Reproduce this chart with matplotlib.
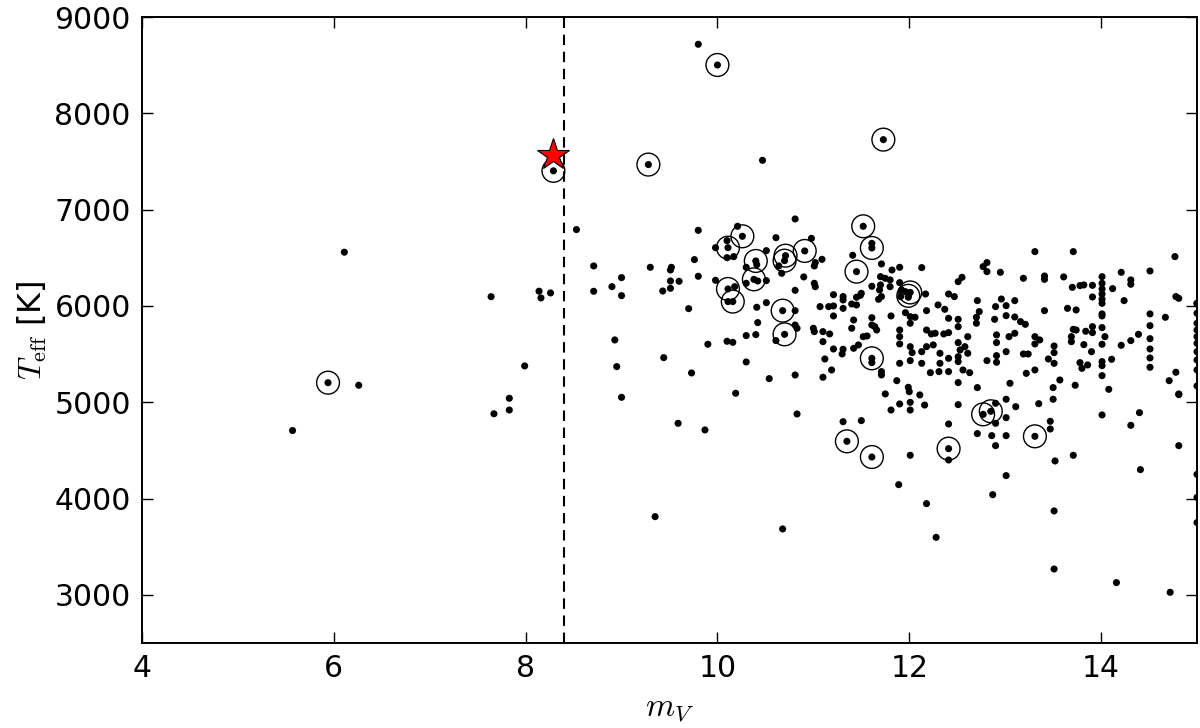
import numpy as np
import matplotlib
matplotlib.use('Agg')
from matplotlib import pyplot as plt

# field stars (plain dots)
mv = [5.57, 6.11, 6.26, 7.64, 7.67, 7.83, 7.83, 7.99, 8.14, 8.16, 8.26, 8.53, 9.80, 10.47,
      # 8.7 - 10.8
      9.80, 10.21, 10.81, 9.98, 10.10, 10.10, 10.17, 10.61, 9.76, 10.51, 10.41, 10.30, 10.64, 10.67,
      8.71, 9.00, 8.90, 8.71, 9.00, 9.30, 9.52, 9.51, 9.51, 9.60, 9.51, 9.43, 9.80, 9.70, 9.98,
      10.30, 10.42, 10.51, 10.18, 10.11, 10.41, 10.51, 10.81, 10.81, 10.42, 10.30, 10.40, 10.61,
      10.81, 10.83, 10.10, 10.16, 9.90, 8.93, 9.44, 8.95, 9.73, 10.30, 10.54, 10.81, 9.00, 10.19,
      10.83, 9.59, 9.87, 9.35, 10.68,
      # 10.8 - 12.8
      10.98, 11.61, 11.41, 11.02, 11.09, 11.01, 11.71, 11.82, 11.90, 12.13, 10.90, 11.70, 11.75,
      11.80, 11.70, 11.80, 11.90, 11.61, 11.01, 11.02, 11.21, 11.31, 11.31, 11.49, 11.50, 11.45,
      11.69, 11.68, 11.71, 11.92, 11.96, 11.91, 11.99, 12.17, 12.41, 12.47, 12.55, 12.51, 12.81,
      12.77, 12.81, 12.71, 11.07, 11.16, 11.21, 11.31, 11.40, 11.45, 11.21, 11.42, 11.61, 11.81,
      11.96, 12.01, 12.06, 12.18, 12.30, 12.37, 12.41, 12.51, 12.73, 12.70, 12.70, 11.00, 11.01,
      11.10, 11.17, 11.10, 11.40, 11.61, 11.64, 11.66, 11.56, 11.52, 11.90, 11.90, 11.90, 12.01,
      12.18, 12.23, 12.27, 12.36, 12.41, 12.51, 12.61, 12.51, 12.58, 11.21, 11.31, 11.30, 11.42,
      11.47, 11.12, 11.19, 11.10, 11.61, 11.71, 11.71, 11.90, 12.01, 12.03, 12.01, 12.13, 12.18,
      12.25, 12.32, 12.32, 12.41, 12.53, 12.51, 12.51, 12.61, 12.22, 12.31, 12.41, 12.56, 12.63,
      12.13, 12.81, 11.87, 11.99, 12.00, 12.11, 11.75, 12.51, 12.71,
      11.90, 11.81, 12.01, 12.01, 12.16, 12.51, 11.31, 11.50, 12.01, 12.41, 12.41, 12.71, 11.89,
      12.18, 12.28,
      # 12.8 - 15
      13.31, 13.71, 14.77, 12.95, 13.19, 13.41, 13.41, 13.61, 13.70, 13.78, 13.82, 13.91, 14.01,
      14.01, 14.01, 14.01, 14.01, 14.01, 14.12, 14.21, 14.31, 14.31, 14.51, 13.91, 14.24, 14.78,
      14.81, 12.96, 12.90, 13.01, 13.10, 13.41, 13.65, 13.74, 14.01, 14.01, 12.89, 13.01, 13.10,
      13.16, 13.21, 14.51, 14.67, 12.91, 13.04, 13.10, 13.31, 13.36, 13.31, 13.69, 13.69, 13.71,
      13.74, 13.84, 13.91, 13.91, 14.01, 14.04, 14.01, 13.82, 13.51, 13.51, 14.21, 14.31, 14.39,
      14.51, 14.51, 14.51, 14.51, 14.51, 12.91, 12.91, 12.91, 13.01, 13.19, 13.24, 13.45, 13.51,
      13.90, 13.78, 13.80, 13.86, 14.01, 14.01, 14.11, 13.22, 13.31, 13.05, 13.57, 13.50, 13.73,
      14.01, 14.08, 14.71, 14.78, 14.81, 13.01, 13.50,
      15.0, 15.0, 15.0, 15.0, 15.0, 15.0, 15.0, 15.0, 15.0, 15.0, 15.0,
      12.90, 13.11, 13.01, 12.90, 12.86, 13.01, 12.90, 13.35, 13.47, 13.47, 13.52, 13.71, 14.01,
      14.40, 14.31, 14.81, 14.81, 14.41, 13.01, 12.87, 13.51, 13.51, 14.16, 14.72, 15.0, 15.0, 15.0]

teff = [4706, 6558, 5176, 6096, 4880, 5041, 4919, 5377, 6153, 6083, 6135, 6793, 8717, 7512,
        6785, 6827, 6903, 6605, 6678, 6501, 6512, 6709, 6481, 6574, 6429, 6401, 6415, 6339,
        6415, 6294, 6200, 6152, 6107, 6401, 6401, 6373, 6259, 6256, 6183, 6155, 6308, 5972, 6266,
        6235, 6259, 6263, 6200, 6045, 5986, 6034, 5951, 6162, 5827, 5692, 5702, 5640,
        5802, 5768, 5633, 5622, 5602, 5647, 5463, 5370, 5304, 5418, 5245, 5283, 5051, 5093,
        4878, 4781, 4712, 3812, 3684,
        6702, 6650, 6526, 6450, 6484, 6415, 6436, 6373, 6401, 6398, 6301, 6304, 6287,
        6270, 6218, 6200, 6242, 6204, 6235, 6200, 6117, 6097, 6062, 6110, 6131, 6090,
        6166, 6069, 6097, 6166, 6148, 6097, 6090, 6124, 6124, 6097, 6297, 6252, 6450,
        6408, 6356, 6055, 5993, 5993, 6000, 5975, 6020, 6010, 5896, 5854, 5878, 5896,
        5930, 5889, 5882, 5951, 6010, 5965, 5872, 5861, 5941, 5882, 5820, 5768, 5733,
        5733, 5709, 5629, 5768, 5802, 5785, 5750, 5688, 5681, 5750, 5681, 5605, 5820,
        5750, 5709, 5716, 5709, 5723, 5785, 5681, 5619, 5577, 5553, 5550, 5501, 5560,
        5595, 5449, 5335, 5259, 5411, 5318, 5283, 5404, 5577, 5515, 5432, 5525, 5577,
        5595, 5508, 5404, 5456, 5543, 5473, 5422, 5508, 5307, 5318, 5318, 5335, 5307,
        5404, 5432, 5224, 5155, 5110, 5076, 5086, 5204, 5152,
        4982, 4919, 4999, 4919, 4971, 4975, 4798, 4809, 4449, 4400, 4774, 4674, 4144,
        3947, 3597,
        6564, 6564, 6512, 6349, 6287, 6311, 6276, 6301, 6193, 6211, 6218, 6214, 6304,
        6235, 6176, 6124, 6069, 6027, 6180, 6349, 6270, 6225, 6363, 6093, 6055, 6097,
        6079, 6072, 5993, 6003, 6055, 5951, 5975, 5958, 5917, 5896, 5861, 5899, 5885,
        5837, 5809, 5917, 5882, 5699, 5681, 5716, 5681, 5647, 5605, 5681, 5629, 5757,
        5750, 5737, 5785, 5723, 5775, 5681, 5602, 5598, 5584, 5515, 5591, 5640, 5705,
        5795, 5660, 5553, 5460, 5363, 5619, 5484, 5415, 5525, 5501, 5501, 5449, 5404,
        5525, 5411, 5352, 5387, 5422, 5380, 5446, 5300, 5335, 5197, 5231, 5152, 5176,
        5276, 5134, 5224, 5311, 5086, 5031, 5031,
        6027, 5924, 6027, 5820, 5750, 5681, 5612, 5525, 5439, 5335, 5169,
        4989, 4954, 4840, 4781, 4653, 4653, 4549, 4985, 4802, 4722, 4390, 4449, 4868,
        4892, 4760, 5079, 4549, 4300, 4238, 4040, 3871, 3268, 3127, 3026, 4251, 4012, 3750]

# selected (circled) stars
mv_sel = [5.94, 8.29, 9.28, 10.00, 11.73,
          10.26, 10.11, 10.40, 10.38, 10.11, 10.16, 10.71, 10.70, 10.68, 10.70,
          11.52, 10.91, 11.61, 11.45, 12.01, 11.99, 11.61,
          11.35, 11.61, 12.41, 12.77, 12.85, 13.31]
teff_sel = [5203, 7403, 7468, 8502, 7727,
            6723, 6605, 6467, 6276, 6176, 6045, 6522, 6470, 5951, 5705,
            6827, 6571, 6602, 6356, 6140, 6105, 5456,
            4594, 4431, 4518, 4874, 4906, 4646]

star_mv, star_teff = 8.29, 7565
mv_cut = 8.4

plt.rcParams['mathtext.fontset'] = 'cm'
plt.rcParams['font.family'] = 'DejaVu Sans'

fig = plt.figure(figsize=(12, 7.28), dpi=100)
ax = fig.add_axes([0.1183, 0.1168, 0.8792, 0.8598])

ax.axvline(mv_cut, color='k', ls='--', lw=1.5, dashes=(5, 3.2), zorder=1)
ax.scatter(mv + mv_sel, teff + teff_sel, s=26, c='k', edgecolors='none', zorder=2)
ax.scatter(mv_sel, teff_sel, s=270, facecolors='none', edgecolors='k', linewidths=1.0, zorder=3)
ax.plot(star_mv, star_teff, marker='*', ms=24, mfc='red', mec='k', mew=0.8, ls='none', zorder=4)

ax.set_xlim(4, 15)
ax.set_ylim(2500, 9000)
ax.set_xticks([4, 6, 8, 10, 12, 14])
ax.set_yticks([3000, 4000, 5000, 6000, 7000, 8000, 9000])
ax.tick_params(direction='in', top=True, right=True, length=8, width=1, labelsize=21.5, pad=8)
for sp in ax.spines.values():
    sp.set_linewidth(1.4)

ax.set_xlabel(r'$m_V$', fontsize=24, labelpad=6)
ax.set_ylabel(r'$T_{\rm eff}$ [K]', fontsize=23, labelpad=4)

fig.savefig('out.png', dpi=100)
